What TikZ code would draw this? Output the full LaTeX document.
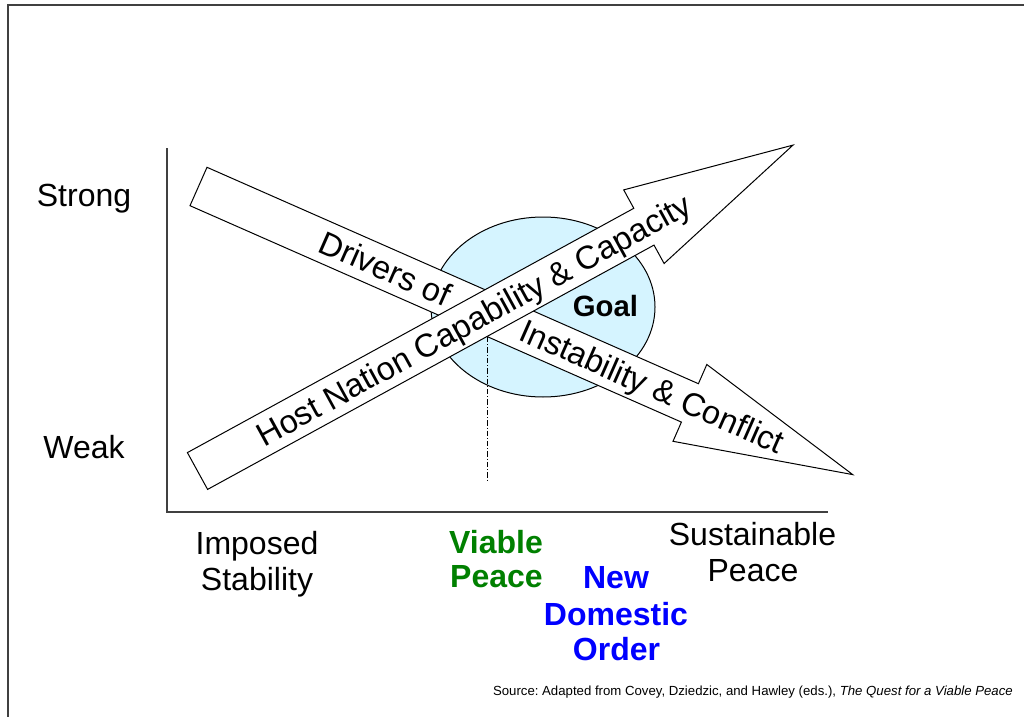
\documentclass[tikz,border=0pt]{standalone}
\usepackage{fontspec}
\setmainfont{Liberation Sans}
\definecolor{goalfill}{RGB}{213,244,255}
\definecolor{framegray}{RGB}{64,64,64}
\definecolor{vgreen}{RGB}{0,128,0}
\definecolor{vblue}{RGB}{0,0,255}
\frenchspacing
\begin{document}
\begin{tikzpicture}[x=0.75pt,y=-0.75pt,
  framestyle/.style={draw=framegray,line width=1.5pt},
  axisstyle/.style={draw=framegray,line width=1.5pt},
  bigarrow/.style={draw=black,fill=white,line width=0.75pt,line join=miter},
  lbl/.style={font=\fontsize{24}{27}\selectfont,inner sep=0pt,anchor=base},
  boldlbl/.style={font=\fontsize{24}{27}\selectfont\bfseries,inner sep=0pt,anchor=base},
  arrowtext/.style={font=\fontsize{24.5}{27}\selectfont,inner sep=0pt,anchor=base},
  dashdotline/.style={draw=black,line width=0.6pt,dash pattern=on 4pt off 1.5pt on 0.8pt off 1.5pt}]
\useasboundingbox (0,0) rectangle (1024,717);
% frame
\coordinate (fbl) at (7.5,717);
\coordinate (ftl) at (7.5,5.5);
\coordinate (ftr) at (1024,5.5);
\draw[framestyle] (fbl) -- (ftl) -- (ftr);
% axes
\coordinate (ytop) at (166.5,148);
\coordinate (origin) at (166.5,512);
\coordinate (xend) at (828,512);
\draw[axisstyle] (ytop) -- (origin) -- (xend);
% goal ellipse
\fill[goalfill,draw=black,line width=0.75pt] (543,307) ellipse [x radius=112, y radius=90];
\node[boldlbl,font=\fontsize{22}{26}\selectfont\bfseries] (goal) at (605.5,316.7) {Goal};
% dash-dot marker
\coordinate (dtop) at (487,337);
\coordinate (dbot) at (487,482);
\draw[dashdotline] (dtop) -- (dbot);
% arrow 1: Drivers of Instability & Conflict
\draw[bigarrow] (207,167.3) -- (698.4,383.7) -- (706.8,364.5) -- (852.7,474.6)
  -- (673,441.3) -- (681.4,422.1) -- (190,205.7) -- cycle;
\node[arrowtext,rotate=-23.8] (drv) at (380.6,279.2) {Drivers of};
\node[arrowtext,rotate=-23.8] (inst) at (647.7,396.9) {Instability \& Conflict};
% arrow 2: Host Nation Capability & Capacity
\draw[bigarrow] (187.4,452.6) -- (633.8,208.3) -- (623.7,189.9) -- (793,145.1)
  -- (664.1,263.5) -- (654,245.1) -- (207.6,489.4) -- cycle;
\node[arrowtext,rotate=28.7] (host) at (479.3,329.9) {Host Nation Capability \& Capacity};
% axis labels
\node[lbl] (strong) at (84,206) {Strong};
\node[lbl] (weak) at (84,458.3) {Weak};
\node[lbl] (imp1) at (257,554.3) {Imposed};
\node[lbl] (imp2) at (257,590) {Stability};
\node[boldlbl,text=vgreen] (via1) at (496,553.3) {Viable};
\node[boldlbl,text=vgreen] (via2) at (496.5,587.7) {Peace};
\node[boldlbl,text=vblue] (new1) at (616,588.3) {New};
\node[boldlbl,text=vblue] (new2) at (616,625) {Domestic};
\node[boldlbl,text=vblue] (new3) at (616.5,660) {Order};
\node[lbl] (sus1) at (752.5,545.7) {Sustainable};
\node[lbl] (sus2) at (753,581.7) {Peace};
% source
\node[inner sep=0pt,anchor=base east,font=\fontsize{9.9}{11}\selectfont] (src) at (1013,695)
  {Source: Adapted from Covey, Dziedzic, and Hawley (eds.), \textit{The Quest for a Viable Peace}};
\end{tikzpicture}
\end{document}
